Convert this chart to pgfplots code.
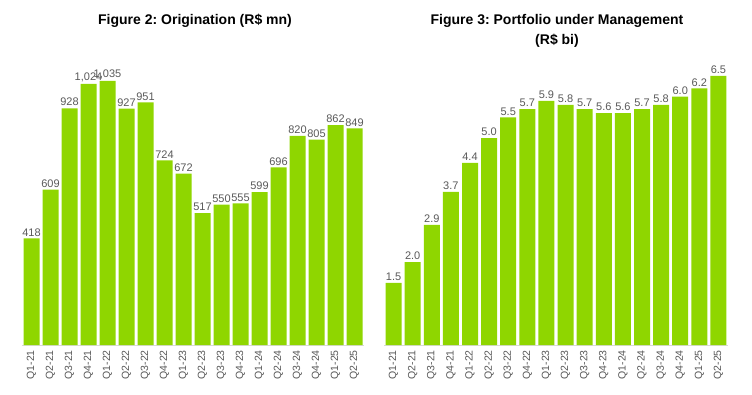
\documentclass[border=0pt]{standalone}
\usepackage{pgfplots}
\pgfplotsset{compat=1.18}
\usepackage{fontspec}
\setmainfont{Liberation Sans}
\frenchspacing
\definecolor{barg}{RGB}{143,214,0}
\definecolor{lbl}{RGB}{89,89,89}
\definecolor{axl}{RGB}{217,217,217}
\pgfplotsset{
  common/.style={
    scale only axis,
    ybar, bar width=16pt,
    xmin=-0.5, xmax=17.5, ymin=0,
    xtick={0,...,17},
    xticklabels={Q1-21,Q2-21,Q3-21,Q4-21,Q1-22,Q2-22,Q3-22,Q4-22,Q1-23,Q2-23,Q3-23,Q4-23,Q1-24,Q2-24,Q3-24,Q4-24,Q1-25,Q2-25},
    x tick label style={rotate=90, anchor=east, font=\fontsize{10.5}{12}\selectfont, text=lbl, inner sep=5pt},
    major tick length=0pt,
    axis x line*=bottom,
    axis y line=none,
    x axis line style={axl, line width=1pt, -},
    nodes near coords,
    every node near coord/.append style={font=\fontsize{11}{12}\selectfont, text=lbl, inner sep=2pt},
    /pgf/number format/assume math mode=true,
    clip=false,
  }
}
\begin{document}
\begin{tikzpicture}
\path[use as bounding box] (0pt,0pt) rectangle (752pt,394pt);
\begin{axis}[common, at={(22pt,49pt)}, anchor=south west, width=342pt, height=280.6pt, ymax=1100,
  nodes near coords={\pgfmathprintnumber[1000 sep={,}]{\pgfplotspointmeta}}]
\addplot[fill=barg, draw=none] coordinates {(0,418) (1,609) (2,928) (3,1024) (4,1035) (5,927) (6,951) (7,724) (8,672) (9,517) (10,550) (11,555) (12,599) (13,696) (14,820) (15,805) (16,862) (17,849)};
\end{axis}
\begin{axis}[common, at={(384pt,49pt)}, anchor=south west, width=344pt, height=289.7pt, ymax=7,
  nodes near coords={\pgfmathprintnumber[fixed,fixed zerofill,precision=1]{\pgfplotspointmeta}}]
\addplot[fill=barg, draw=none] coordinates {(0,1.5) (1,2.0) (2,2.9) (3,3.7) (4,4.4) (5,5.0) (6,5.5) (7,5.7) (8,5.9) (9,5.8) (10,5.7) (11,5.6) (12,5.6) (13,5.7) (14,5.8) (15,6.0) (16,6.2) (17,6.5)};
\end{axis}
\node[font=\bfseries\fontsize{14}{16}\selectfont, anchor=base] at (195pt,369pt) {Figure 2: Origination (R\$ mn)};
\node[font=\bfseries\fontsize{14}{16}\selectfont, anchor=base] at (557pt,369pt) {Figure 3: Portfolio under Management};
\node[font=\bfseries\fontsize{14}{16}\selectfont, anchor=base] at (557pt,349pt) {(R\$ bi)};
\end{tikzpicture}
\end{document}
